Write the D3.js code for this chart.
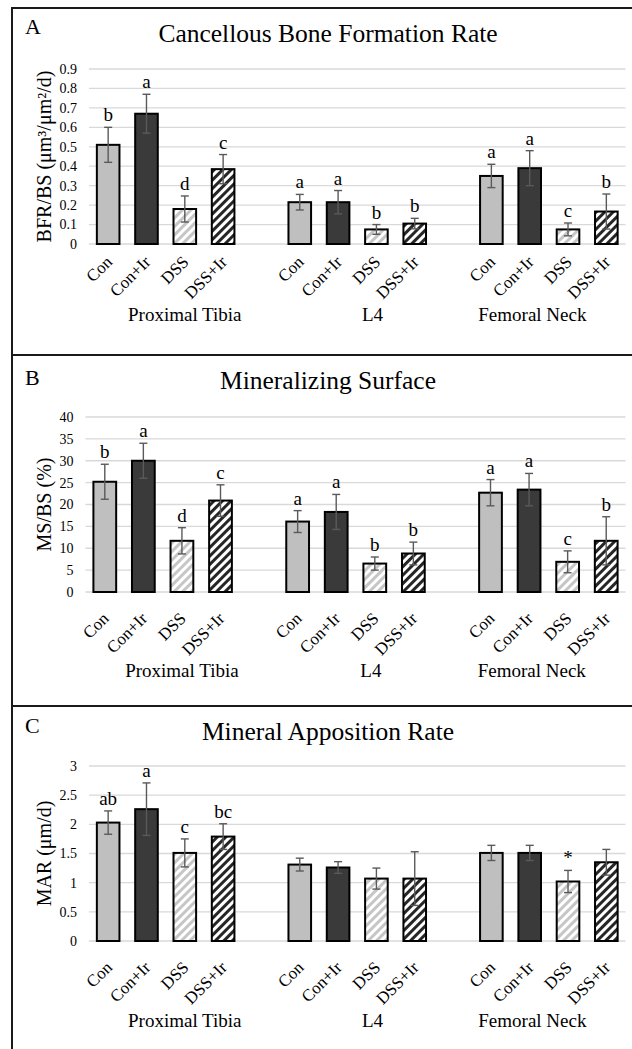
<!DOCTYPE html>
<html><head><meta charset="utf-8">
<script src="https://cdn.jsdelivr.net/npm/d3@7"></script>
<style>
body{margin:0;background:#fff}
svg{display:block}
text{font-family:"Liberation Serif","Times New Roman",serif;fill:#000}
</style>
</head><body><svg id="c" width="632" height="1049"></svg>
<script>
// ---------- data ----------
const sites = ["Proximal Tibia", "L4", "Femoral Neck"];
const treatments = ["Con", "Con+Ir", "DSS", "DSS+Ir"];

// Panel A: Cancellous Bone Formation Rate
const bfrMean = [0.51, 0.67, 0.18, 0.385, 0.215, 0.215, 0.075, 0.105, 0.35, 0.39, 0.075, 0.167];
const bfrSD   = [0.09, 0.10, 0.067, 0.075, 0.04, 0.06, 0.025, 0.027, 0.06, 0.09, 0.033, 0.09];
const bfrLetters = ["b", "a", "d", "c", "a", "a", "b", "b", "a", "a", "c", "b"];
const bfrTicks = [0, 0.1, 0.2, 0.3, 0.4, 0.5, 0.6, 0.7, 0.8, 0.9];

// Panel B: Mineralizing Surface
const msMean = [25.2, 30.0, 11.7, 20.9, 16.1, 18.3, 6.5, 8.8, 22.7, 23.4, 6.9, 11.7];
const msSD   = [4.0, 4.0, 3.0, 3.6, 2.5, 4.0, 1.5, 2.6, 3.0, 3.7, 2.5, 5.5];
const msLetters = ["b", "a", "d", "c", "a", "a", "b", "b", "a", "a", "c", "b"];
const msTicks = [0, 5, 10, 15, 20, 25, 30, 35, 40];

// Panel C: Mineral Apposition Rate
const marMean = [2.03, 2.26, 1.51, 1.79, 1.31, 1.26, 1.07, 1.07, 1.51, 1.51, 1.02, 1.35];
const marSD   = [0.20, 0.45, 0.24, 0.22, 0.11, 0.10, 0.18, 0.46, 0.13, 0.13, 0.19, 0.22];
const marLetters = ["ab", "a", "c", "bc", "", "", "", "", "", "", "*", ""];
const marTicks = [0, 0.5, 1, 1.5, 2, 2.5, 3];

// ---------- layout ----------
const panels = [
  {tag: "A", title: "Cancellous Bone Formation Rate", ylab: "BFR/BS (μm³/μm²/d)",
   mean: bfrMean, sd: bfrSD, letters: bfrLetters, ticks: bfrTicks,
   top: 8, tagY: 34, x0: 89, y0: 244, tickOff: 19, groupOff: 77},
  {tag: "B", title: "Mineralizing Surface", ylab: "MS/BS (%)",
   mean: msMean, sd: msSD, letters: msLetters, ticks: msTicks,
   top: 355, tagY: 385, x0: 85.5, y0: 592, tickOff: 27.5, groupOff: 85},
  {tag: "C", title: "Mineral Apposition Rate", ylab: "MAR (μm/d)",
   mean: marMean, sd: marSD, letters: marLetters, ticks: marTicks,
   top: 706, tagY: 733, x0: 89, y0: 941, tickOff: 27.5, groupOff: 86}
];
const xRight = 625.5, plotH = 175;
const groupLabelShift = [2.5, 2.4, 1.57]; // in slot steps from group start

const svg = d3.select("#c");
const defs = svg.append("defs");
function hatch(id, color) {
  const p = defs.append("pattern").attr("id", id)
    .attr("patternUnits", "userSpaceOnUse").attr("width", 6).attr("height", 6)
    .attr("patternTransform", "rotate(45)");
  p.append("rect").attr("width", 6).attr("height", 6).attr("fill", "#fff");
  p.append("rect").attr("width", 3).attr("height", 6).attr("fill", color);
}
hatch("hLight", "#c6c6c6");
hatch("hDark", "#262626");
const fills = ["#bfbfbf", "#3a3a3a", "url(#hLight)", "url(#hDark)"];

// slots: 4 treatments per site with a blank slot between sites
const slots = [];
sites.forEach((s, i) => {
  treatments.forEach(t => slots.push(s + "|" + t));
  if (i < sites.length - 1) slots.push("gap" + i);
});
const rows = [];
sites.forEach((s, i) => treatments.forEach((t, j) => rows.push({site: s, si: i, t, ti: j, key: s + "|" + t})));

panels.forEach(P => {
  const g = svg.append("g");
  const x = d3.scaleBand().domain(slots).range([P.x0, xRight]).paddingInner(0.41).paddingOuter(0.205);
  const y = d3.scaleLinear().domain([0, d3.max(P.ticks)]).range([P.y0, P.y0 - plotH]);
  const step = x.step();

  // gridlines
  g.selectAll(".grid").data(P.ticks).join("line")
    .attr("x1", P.x0).attr("x2", xRight)
    .attr("y1", d => y(d)).attr("y2", d => y(d))
    .attr("stroke", "#d9d9d9").attr("stroke-width", 1.3);
  // tick labels
  g.selectAll(".tl").data(P.ticks).join("text")
    .attr("x", P.x0 - 12).attr("y", d => y(d)).attr("dy", "0.35em")
    .attr("text-anchor", "end").attr("font-size", 14).text(d => String(d));

  // bars
  const data = rows.map((r, i) => ({...r, m: P.mean[i], s: P.sd[i], l: P.letters[i]}));
  g.selectAll(".bar").data(data).join("rect")
    .attr("x", d => x(d.key)).attr("width", x.bandwidth())
    .attr("y", d => y(d.m)).attr("height", d => y(0) - y(d.m))
    .attr("fill", d => fills[d.ti]).attr("stroke", "#000").attr("stroke-width", 2);

  // error bars
  const eb = g.selectAll(".eb").data(data).join("g")
    .attr("stroke", "#5a5a5a").attr("stroke-width", 1.4);
  const cx = d => x(d.key) + x.bandwidth() / 2;
  eb.append("line")
    .attr("x1", cx).attr("x2", cx)
    .attr("y1", d => y(d.m - d.s)).attr("y2", d => y(d.m + d.s));
  eb.append("line")
    .attr("x1", d => cx(d) - 4).attr("x2", d => cx(d) + 4)
    .attr("y1", d => y(d.m + d.s)).attr("y2", d => y(d.m + d.s));
  eb.append("line")
    .attr("x1", d => cx(d) - 4).attr("x2", d => cx(d) + 4)
    .attr("y1", d => y(d.m - d.s)).attr("y2", d => y(d.m - d.s));

  // letters
  g.selectAll(".let").data(data.filter(d => d.l)).join("text")
    .attr("x", cx).attr("y", d => y(d.m + d.s) - 6)
    .attr("text-anchor", "middle").attr("font-size", 19).text(d => d.l);

  // treatment labels
  g.selectAll(".xl").data(data).join("text")
    .attr("text-anchor", "end").attr("font-size", 17)
    .attr("transform", d => `translate(${cx(d) + 5},${P.y0 + P.tickOff}) rotate(-45)`)
    .text(d => d.t);

  // site labels
  g.selectAll(".gl").data(sites).join("text")
    .attr("x", (s, i) => x(s + "|" + treatments[0]) - (step - x.bandwidth()) / 2 + groupLabelShift[i] * step)
    .attr("y", P.y0 + P.groupOff)
    .attr("text-anchor", "middle").attr("font-size", 19).text(s => s);

  // y label
  g.append("text")
    .attr("transform", `translate(51,${P.y0 - plotH / 2}) rotate(-90)`)
    .attr("text-anchor", "middle").attr("font-size", 20).text(P.ylab);

  // title & tag
  g.append("text").attr("x", 328).attr("y", P.top + 34).attr("text-anchor", "middle")
    .attr("font-size", 25.5).text(P.title);
  g.append("text").attr("x", 25).attr("y", P.tagY).attr("font-size", 22).text(P.tag);
});

// frame lines
const frame = svg.append("g").attr("stroke", "#1a1a1a").attr("stroke-width", 2);
[8, 355, 706].forEach(v => frame.append("line").attr("x1", 12).attr("x2", 632).attr("y1", v).attr("y2", v));
frame.append("line").attr("x1", 12).attr("x2", 12).attr("y1", 7).attr("y2", 1049);
</script>
</body></html>
